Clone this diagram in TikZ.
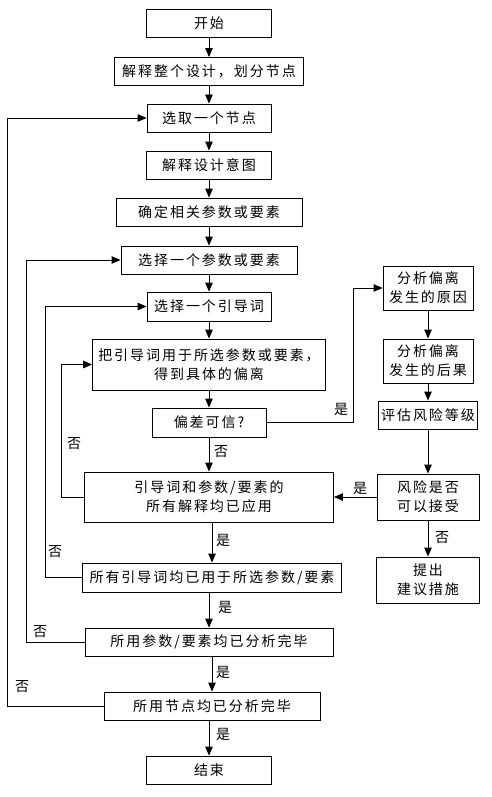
\documentclass[tikz,border=0pt]{standalone}
\usepackage{fontspec}
\setmainfont{Noto Sans CJK SC}[LetterSpace=14]
\usetikzlibrary{arrows.meta}
\tikzset{
  box/.style={draw, line width=0.9pt, minimum height=28pt, inner sep=2pt,
    align=center, font=\fontsize{14}{19}\selectfont},
  arr/.style={line width=0.9pt, -{Triangle[length=9pt,width=7.5pt]}},
  lbl/.style={font=\fontsize{14}{19}\selectfont, inner sep=0pt},
}

\begin{document}
\begin{tikzpicture}[x=1pt,y=-1pt]
  \useasboundingbox (0,0) rectangle (491,797);
  % main column
  \node[box, minimum width=125pt] (start) at (209,23.5) {开始};
  \node[box, minimum width=189pt] (divide) at (209,71.5) {解释整个设计，划分节点};
  \node[box, minimum width=124pt] (pick) at (209,118) {选取一个节点};
  \node[box, minimum width=125pt] (intent) at (209,165) {解释设计意图};
  \node[box, minimum width=186pt] (params) at (209,212) {确定相关参数或要素};
  \node[box, minimum width=176pt] (pickparam) at (209,260) {选择一个参数或要素};
  \node[box, minimum width=124pt, minimum height=29pt] (pickword) at (209,306.5) {选择一个引导词};
  \node[box, minimum width=233pt, minimum height=51pt] (apply) at (209,364.5)
    {把引导词用于所选参数或要素，\\得到具体的偏离};
  \node[box, minimum width=114pt, minimum height=29pt] (credible) at (209,422.5) {偏差可信?};
  \node[box, minimum width=249pt, minimum height=50pt] (allmeaning) at (209,497)
    {引导词和参数/要素的\\所有解释均已应用};
  \node[box, minimum width=259pt, minimum height=29pt] (allwords) at (212,577.5)
    {所有引导词均已用于所选参数/要素};
  \node[box, minimum width=248pt] (allparams) at (209,642) {所用参数/要素均已分析完毕};
  \node[box, minimum width=216pt] (allnodes) at (212,706) {所用节点均已分析完毕};
  \node[box, minimum width=125pt] (end) at (209,770) {结束};
  % right column
  \node[box, minimum width=90pt, minimum height=44pt] (cause) at (428,288) {分析偏离\\发生的原因};
  \node[box, minimum width=90pt, minimum height=44pt] (effect) at (428,361) {分析偏离\\发生的后果};
  \node[box, minimum width=99pt] (rank) at (428,415) {评估风险等级};
  \node[box, minimum width=102pt, minimum height=46pt] (risk) at (428,497) {风险是否\\可以接受};
  \node[box, minimum width=103pt, minimum height=46pt] (advice) at (428,580) {提出\\建议措施};

  \foreach \a/\b in {start/divide, divide/pick, pick/intent, intent/params,
      params/pickparam, pickparam/pickword, pickword/apply, apply/credible,
      credible/allmeaning, allmeaning/allwords, allwords/allparams,
      allparams/allnodes, allnodes/end, cause/effect, effect/rank,
      rank/risk, risk/advice}
    \draw[arr] (\a.south -| \b) -- (\b.north);
  \draw[arr] (risk.west) -- (allmeaning.east);

  % loops back
  \coordinate (l1) at (7,0);
  \coordinate (l2) at (26,0);
  \coordinate (l3) at (45,0);
  \coordinate (l4) at (61,0);
  \coordinate (r1) at (353,0);
  \draw[arr] (allnodes.west) -- (allnodes.west -| l1) |- (pick.west);
  \draw[arr] (allparams.west) -- (allparams.west -| l2) |- (pickparam.west);
  \draw[arr] (allwords.west) -- (allwords.west -| l3) |- (pickword.west);
  \draw[arr] (allmeaning.west) -- (allmeaning.west -| l4) |- (apply.west);
  \draw[arr] (credible.east) -- (credible.east -| r1) |- (cause.west);

  % labels
  \node[lbl] (n1) at (22,687) {否};
  \node[lbl] (n2) at (40,632) {否};
  \node[lbl] (n3) at (55,552) {否};
  \node[lbl] (n4) at (74,444) {否};
  \node[lbl] (n5) at (221,452) {否};
  \node[lbl] (n6) at (442,538) {否};
  \node[lbl] (y1) at (223,540) {是};
  \node[lbl] (y2) at (225,607) {是};
  \node[lbl] (y3) at (223,672) {是};
  \node[lbl] (y4) at (223,734) {是};
  \node[lbl] (y5) at (341,409) {是};
  \node[lbl] (y6) at (360,488) {是};
\end{tikzpicture}
\end{document}
